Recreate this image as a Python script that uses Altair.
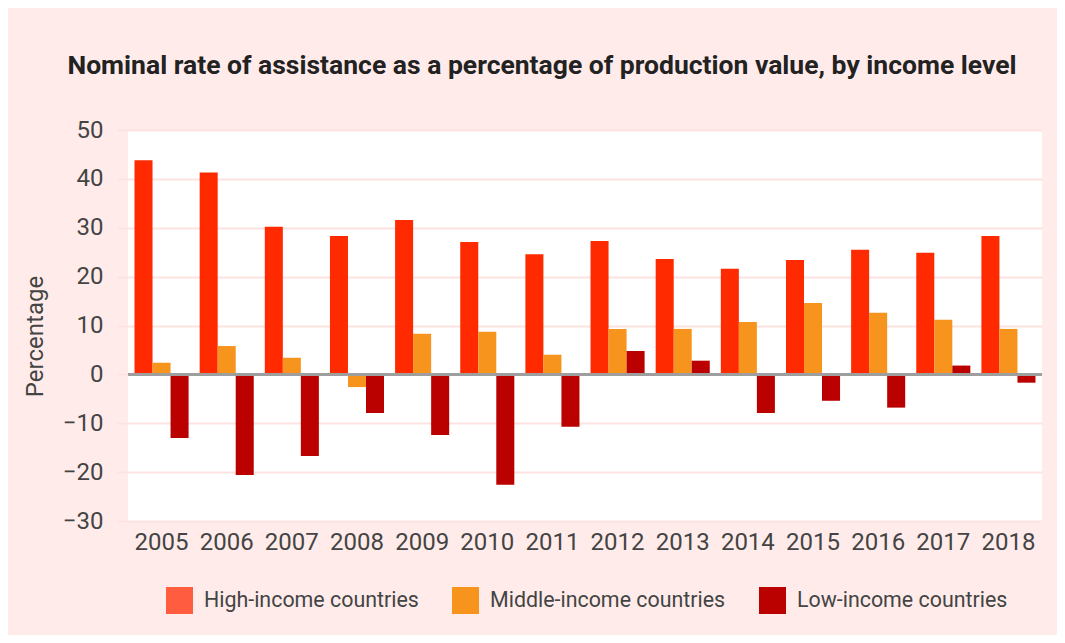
import altair as alt
import pandas as pd

years = [str(y) for y in range(2005, 2019)]
groups = ["High-income countries", "Middle-income countries", "Low-income countries"]
high = [43.8, 41.3, 30.2, 28.3, 31.6, 27.1, 24.6, 27.3, 23.6, 21.6, 23.4, 25.5, 24.9, 28.3]
middle = [2.4, 5.8, 3.4, -2.6, 8.3, 8.7, 4.0, 9.3, 9.3, 10.7, 14.6, 12.6, 11.2, 9.3]
low = [-13.0, -20.6, -16.7, -7.9, -12.4, -22.6, -10.7, 4.8, 2.8, -7.9, -5.4, -6.8, 1.8, -1.7]
y_ticks = [-30, -20, -10, 0, 10, 20, 30, 40, 50]

bar_colors = ["#FF2A00", "#F7941E", "#BB0000"]
legend_colors = ["#FF5C40", "#F7941E", "#BB0000"]

rows = []
for series, vals in zip(groups, [high, middle, low]):
    for yr, v in zip(years, vals):
        rows.append({"year": yr, "group": series, "value": v})
df = pd.DataFrame(rows)

FONT = "Roboto"
TXT = "#444444"
GRID = "#FDE3E0"

x_enc = alt.X("year:N", sort=years,
              scale=alt.Scale(paddingInner=0.17, paddingOuter=0.1),
              axis=alt.Axis(title=None, labelAngle=0, labelFontSize=24, labelColor=TXT,
                            labelFont=FONT, ticks=False, domain=False, labelPadding=9))
y_enc = alt.Y("value:Q", scale=alt.Scale(domain=[-30, 50], nice=False),
              axis=alt.Axis(values=y_ticks, title="Percentage", titleFontSize=24,
                            titleFontWeight="normal", titleColor=TXT, titleFont=FONT,
                            titleX=-81, titleY=206,
                            labelFontSize=24, labelColor=TXT, labelFont=FONT,
                            labelPadding=14, domain=False, gridColor=GRID, gridWidth=2,
                            tickColor=GRID, tickWidth=2, tickSize=11))

bars = alt.Chart(df).mark_bar().encode(
    x=x_enc,
    y=y_enc,
    xOffset=alt.XOffset("group:N", sort=groups, scale=alt.Scale(paddingInner=0, paddingOuter=0)),
    color=alt.Color("group:N", scale=alt.Scale(domain=groups, range=bar_colors), legend=None),
)

zero = alt.Chart(pd.DataFrame({"z": [0]})).mark_rule(color="#9E9E9E", strokeWidth=3).encode(
    y=alt.Y("z:Q")
)

legend_layer = alt.Chart(df).transform_filter("false").mark_square().encode(
    x=alt.X("year:N", sort=years),
    y=alt.Y("value:Q"),
    color=alt.Color("group:N", scale=alt.Scale(domain=groups, range=legend_colors),
                    legend=alt.Legend(title=None, orient="none", legendX=38, legendY=457,
                                      direction="horizontal", symbolType="square",
                                      symbolSize=729, symbolStrokeWidth=0, symbolOpacity=1,
                                      labelFontSize=21.4, labelColor=TXT, labelFont=FONT,
                                      labelLimit=0, columnPadding=33, labelOffset=11)),
)

chart = alt.layer(bars, zero, legend_layer).resolve_scale(color="independent").properties(
    width=914,
    height=391,
    padding={"left": 120, "top": 122, "right": 15, "bottom": 114},
    autosize=alt.AutoSizeParams(type="none"),
    background="#FFECEA",
    title=alt.TitleParams(
        "Nominal rate of assistance as a percentage of production value, by income level",
        font=FONT, fontSize=26.5, fontWeight="bold", color="#222222",
        anchor="middle", frame="group", dx=-43, offset=18, baseline="alphabetic"),
).configure_view(fill="white", stroke=None)

chart.save("out.html", embed_options={"renderer": "svg", "actions": False})
